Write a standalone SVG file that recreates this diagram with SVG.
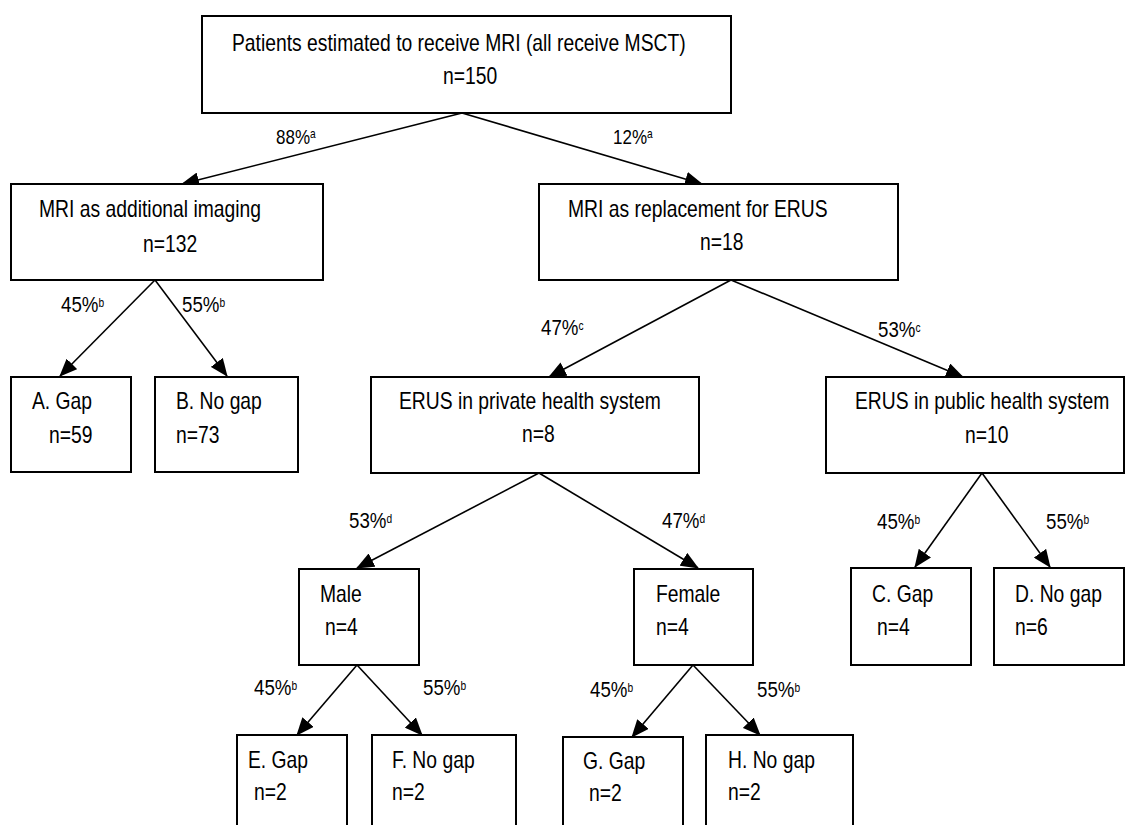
<svg xmlns="http://www.w3.org/2000/svg" width="1127" height="825" viewBox="0 0 1127 825">
<style>
.box{fill:#fff;stroke:#000;stroke-width:2}
.ln{stroke:#000;stroke-width:1.6;fill:none;marker-end:url(#ah)}
text{font-family:"Liberation Sans",Arial,sans-serif;font-size:23px;fill:#000}
text.lb{font-size:22px}
text.lt{font-size:20px}
.sup{font-size:12px}
</style>
<defs>
<marker id="ah" markerUnits="userSpaceOnUse" markerWidth="18" markerHeight="15" refX="17" refY="7.5" orient="auto"><path d="M0,0 L18,7.5 L0,15 z" fill="#000"/></marker>
</defs>
<rect width="1127" height="825" fill="#fff"/>
<g id="connectors">
<line class="ln" x1="462" y1="113" x2="182" y2="184"/>
<line class="ln" x1="462" y1="113" x2="702" y2="184"/>
<line class="ln" x1="155" y1="280" x2="60" y2="376"/>
<line class="ln" x1="155" y1="280" x2="227" y2="376"/>
<line class="ln" x1="731" y1="280" x2="549" y2="377"/>
<line class="ln" x1="731" y1="280" x2="963" y2="377"/>
<line class="ln" x1="539" y1="473" x2="357" y2="568"/>
<line class="ln" x1="539" y1="473" x2="698" y2="568"/>
<line class="ln" x1="982" y1="473" x2="915" y2="567"/>
<line class="ln" x1="982" y1="473" x2="1050" y2="567"/>
<line class="ln" x1="357" y1="665" x2="297" y2="735"/>
<line class="ln" x1="357" y1="665" x2="422" y2="735"/>
<line class="ln" x1="693" y1="665" x2="632" y2="737"/>
<line class="ln" x1="693" y1="665" x2="760" y2="735"/>
<text class="lt" transform="translate(276 144) scale(.85 1)">88%<tspan class="sup" dy="-6">a</tspan></text>
<text class="lt" transform="translate(613 144) scale(.85 1)">12%<tspan class="sup" dy="-6">a</tspan></text>
<text class="lb" transform="translate(61 312) scale(.85 1)">45%<tspan class="sup" dy="-5">b</tspan></text>
<text class="lb" transform="translate(182 312) scale(.85 1)">55%<tspan class="sup" dy="-5">b</tspan></text>
<text class="lb" transform="translate(541 335) scale(.85 1)">47%<tspan class="sup" dy="-5">c</tspan></text>
<text class="lb" transform="translate(878 337) scale(.85 1)">53%<tspan class="sup" dy="-5">c</tspan></text>
<text class="lb" transform="translate(349 528) scale(.85 1)">53%<tspan class="sup" dy="-5">d</tspan></text>
<text class="lb" transform="translate(662 528) scale(.85 1)">47%<tspan class="sup" dy="-5">d</tspan></text>
<text class="lb" transform="translate(877 529) scale(.85 1)">45%<tspan class="sup" dy="-5">b</tspan></text>
<text class="lb" transform="translate(1046 529) scale(.85 1)">55%<tspan class="sup" dy="-5">b</tspan></text>
<text class="lb" transform="translate(254 695) scale(.85 1)">45%<tspan class="sup" dy="-5">b</tspan></text>
<text class="lb" transform="translate(423 695) scale(.85 1)">55%<tspan class="sup" dy="-5">b</tspan></text>
<text class="lb" transform="translate(590 697) scale(.85 1)">45%<tspan class="sup" dy="-5">b</tspan></text>
<text class="lb" transform="translate(757 697) scale(.85 1)">55%<tspan class="sup" dy="-5">b</tspan></text>
</g>
<g id="n-top"><rect class="box" x="202" y="16" width="529" height="97"/>
<text transform="translate(232 51) scale(.84 1)">Patients estimated to receive MRI (all receive MSCT)</text>
<text transform="translate(443 84) scale(.84 1)">n=150</text></g>
<g id="n-additional"><rect class="box" x="11" y="184" width="312" height="96"/>
<text transform="translate(39 217) scale(.84 1)">MRI as additional imaging</text>
<text transform="translate(143 252) scale(.84 1)">n=132</text></g>
<g id="n-replacement"><rect class="box" x="539" y="184" width="359" height="96"/>
<text transform="translate(568 217) scale(.84 1)">MRI as replacement for ERUS</text>
<text transform="translate(700 250) scale(.84 1)">n=18</text></g>
<g id="n-A"><rect class="box" x="11" y="377" width="120" height="95"/>
<text transform="translate(32 409) scale(.84 1)">A. Gap</text>
<text transform="translate(49 443) scale(.84 1)">n=59</text></g>
<g id="n-B"><rect class="box" x="155" y="377" width="143" height="95"/>
<text transform="translate(176 409) scale(.84 1)">B. No gap</text>
<text transform="translate(176 443) scale(.84 1)">n=73</text></g>
<g id="n-private"><rect class="box" x="371" y="377" width="328" height="96"/>
<text transform="translate(399 409) scale(.84 1)">ERUS in private health system</text>
<text transform="translate(522 442) scale(.84 1)">n=8</text></g>
<g id="n-public"><rect class="box" x="826" y="377" width="298" height="96"/>
<text transform="translate(855 409) scale(.84 1)">ERUS in public health system</text>
<text transform="translate(965 443) scale(.84 1)">n=10</text></g>
<g id="n-C"><rect class="box" x="851" y="568" width="120" height="97"/>
<text transform="translate(872 602) scale(.84 1)">C. Gap</text>
<text transform="translate(877 635) scale(.84 1)">n=4</text></g>
<g id="n-D"><rect class="box" x="994" y="568" width="130" height="97"/>
<text transform="translate(1015 602) scale(.84 1)">D. No gap</text>
<text transform="translate(1015 635) scale(.84 1)">n=6</text></g>
<g id="n-male"><rect class="box" x="299" y="569" width="120" height="96"/>
<text transform="translate(320 602) scale(.84 1)">Male</text>
<text transform="translate(325 635) scale(.84 1)">n=4</text></g>
<g id="n-female"><rect class="box" x="634" y="569" width="119" height="96"/>
<text transform="translate(656 602) scale(.84 1)">Female</text>
<text transform="translate(656 635) scale(.84 1)">n=4</text></g>
<g id="n-E"><rect class="box" x="237" y="735" width="110" height="100"/>
<text transform="translate(248 768) scale(.84 1)">E. Gap</text>
<text transform="translate(254 800) scale(.84 1)">n=2</text></g>
<g id="n-F"><rect class="box" x="372" y="735" width="144" height="100"/>
<text transform="translate(392 768) scale(.84 1)">F. No gap</text>
<text transform="translate(392 800) scale(.84 1)">n=2</text></g>
<g id="n-G"><rect class="box" x="563" y="737" width="120" height="100"/>
<text transform="translate(583 769) scale(.84 1)">G. Gap</text>
<text transform="translate(589 801) scale(.84 1)">n=2</text></g>
<g id="n-H"><rect class="box" x="706" y="735" width="147" height="100"/>
<text transform="translate(728 768) scale(.84 1)">H. No gap</text>
<text transform="translate(728 800) scale(.84 1)">n=2</text></g>
</svg>
